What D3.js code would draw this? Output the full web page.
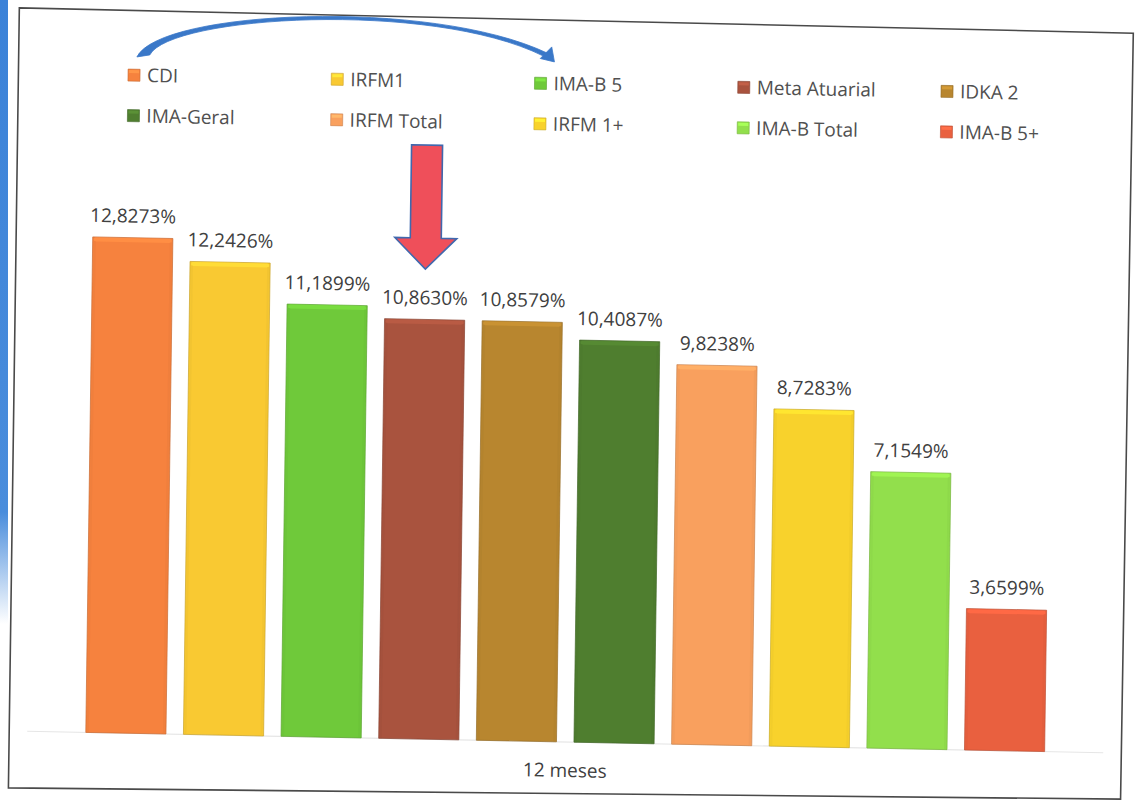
<!DOCTYPE html>
<html>
<head>
<meta charset="utf-8">
<script src="https://cdn.jsdelivr.net/npm/d3@7"></script>
<style>
  html, body { margin: 0; padding: 0; background: #ffffff; }
  svg { display: block; }
</style>
</head>
<body>
<svg id="chart" width="1139" height="800"></svg>
<script>
// Twelve-month returns of the benchmark indices
const categories = ["CDI", "IRFM1", "IMA-B 5", "Meta Atuarial", "IDKA 2",
                    "IMA-Geral", "IRFM Total", "IRFM 1+", "IMA-B Total", "IMA-B 5+"];
const values = [12.8273, 12.2426, 11.1899, 10.8630, 10.8579,
                10.4087, 9.8238, 8.7283, 7.1549, 3.6599];
const colors = ["#f6823e", "#f9c932", "#6fc93a", "#a9533e", "#b8862f",
                "#4f7e2f", "#f9a05e", "#f8d22c", "#92df4c", "#e9603f"];
const periodLabel = "12 meses";
const highlighted = "Meta Atuarial";
const yDomain = [0, 14];

const svg = d3.select("#chart");
const font = "'Open Sans', 'Liberation Sans', sans-serif";
const ptBR = d3.formatLocale({ decimal: ",", thousands: ".", grouping: [3], currency: ["R$", ""] });
const fmt = v => ptBR.format(".4f")(v) + "%";

// slide strip on the left edge
const defs = svg.append("defs");
const strip = defs.append("linearGradient").attr("id", "strip")
  .attr("x1", 0).attr("y1", 0).attr("x2", 0).attr("y2", 1);
strip.append("stop").attr("offset", 0).attr("stop-color", "#3b82d8");
strip.append("stop").attr("offset", 0.64).attr("stop-color", "#4a8ddc");
strip.append("stop").attr("offset", 0.78).attr("stop-color", "#ffffff");
svg.append("rect").attr("x", 0).attr("y", 0).attr("width", 8).attr("height", 800)
  .attr("fill", "url(#strip)");

// the printed chart sits slightly askew on the page
const g = svg.append("g").attr("transform", "matrix(1,0.02,-0.014,1,5.6,-11.4)");

// chart border
g.append("path")
  .attr("d", "M14,19 L1128,22 L1126,788 L14,799 Z")
  .attr("fill", "none").attr("stroke", "#4a4a4a").attr("stroke-width", 1.6);

// scales
const x = d3.scaleBand().domain(categories).range([32, 1108])
  .paddingInner(0.179).paddingOuter(0.6);
const y = d3.scaleLinear().domain(yDomain).range([742, 742 - 14 * 38.63]);
const color = d3.scaleOrdinal().domain(categories).range(colors);
const data = categories.map((c, i) => ({ cat: c, value: values[i] }));

// category axis line
g.append("line")
  .attr("x1", x.range()[0]).attr("x2", x.range()[1])
  .attr("y1", y(0)).attr("y2", y(0))
  .attr("stroke", "#e6e6e6").attr("stroke-width", 1.2);

// bars with a soft bevel on top
const bars = g.append("g").selectAll("g").data(data).join("g");
bars.append("rect")
  .attr("x", d => x(d.cat)).attr("width", x.bandwidth())
  .attr("y", d => y(d.value)).attr("height", d => y(0) - y(d.value))
  .attr("fill", d => color(d.cat))
  .attr("stroke", d => d3.color(color(d.cat)).darker(0.6))
  .attr("stroke-width", 0.7);
bars.append("rect")
  .attr("x", d => x(d.cat) + 1).attr("width", x.bandwidth() - 2)
  .attr("y", d => y(d.value) + 0.5).attr("height", 4).attr("rx", 2)
  .attr("fill", d => d3.color(color(d.cat)).brighter(0.25));
bars.append("rect")
  .attr("x", d => x(d.cat) + 1).attr("width", 2)
  .attr("y", d => y(d.value) + 4).attr("height", d => y(0) - y(d.value) - 4)
  .attr("fill", d => d3.color(color(d.cat)).darker(0.15)).attr("opacity", 0.5);
bars.append("rect")
  .attr("x", d => x(d.cat) + x.bandwidth() - 3).attr("width", 2)
  .attr("y", d => y(d.value) + 4).attr("height", d => y(0) - y(d.value) - 4)
  .attr("fill", d => d3.color(color(d.cat)).darker(0.15)).attr("opacity", 0.5);

// value labels
g.append("g").selectAll("text").data(data).join("text")
  .attr("x", d => x(d.cat) + x.bandwidth() / 2)
  .attr("y", d => y(d.value) - 15)
  .attr("text-anchor", "middle")
  .attr("font-family", font).attr("font-size", 19).attr("fill", "#404040")
  .text(d => fmt(d.value));

// period label under the bars
g.append("text")
  .attr("x", (x.range()[0] + x.range()[1]) / 2).attr("y", 777)
  .attr("text-anchor", "middle")
  .attr("font-family", font).attr("font-size", 19).attr("fill", "#404040")
  .text(periodLabel);

// legend: five columns, two rows
const legCols = 5, legX0 = 123.6, legStep = 203.25, legRowY = [84, 124.5];
const legX = i => legX0 + (i % legCols) * legStep;
const legY = i => legRowY[Math.floor(i / legCols)];
const leg = g.append("g").selectAll("g").data(categories).join("g")
  .attr("transform", (d, i) => `translate(${legX(i)},${legY(i)})`);
leg.append("rect").attr("x", 0).attr("y", -6).attr("width", 12).attr("height", 12)
  .attr("fill", d => color(d))
  .attr("stroke", d => d3.color(color(d)).darker(0.6)).attr("stroke-width", 0.6);
leg.append("rect").attr("x", 1).attr("y", -5).attr("width", 10).attr("height", 3)
  .attr("fill", d => d3.color(color(d)).brighter(0.4));
leg.append("text").attr("x", 19).attr("y", 0).attr("dy", "0.35em")
  .attr("font-family", font).attr("font-size", 19).attr("fill", "#505050")
  .text(d => d);

// curved blue arrow from the first legend column to the third
const ax0 = legX(0), ax2 = legX(2), ay = legRowY[0];
const arc = d3.path();
arc.moveTo(ax0 + 8.6, ay - 18.3);
arc.bezierCurveTo(ax0 + 30.9, ay - 65.8, ax2 - 105.7, ay - 83.2, ax2 + 12, ay - 30.5);
arc.lineTo(ax2 + 8.1, ay - 27.5);
arc.bezierCurveTo(ax2 - 105.7, ay - 81.2, ax0 + 41, ay - 60, ax0 + 21.5, ay - 20.6);
arc.closePath();
g.append("path").attr("d", arc.toString())
  .attr("fill", "#3a78c8").attr("stroke", "#3a78c8").attr("stroke-width", 0.8)
  .attr("stroke-linejoin", "round");
g.append("path")
  .attr("d", d3.line()([[ax2 + 5.4, ay - 24.8], [ax2 + 16.7, ay - 36.6], [ax2 + 19.6, ay - 21.7]]) + "Z")
  .attr("fill", "#3a78c8").attr("stroke", "#3a78c8").attr("stroke-width", 0.8)
  .attr("stroke-linejoin", "round");

// red arrow pointing at the highlighted bar
const cx = x(highlighted) + x.bandwidth() / 2;
const shaftTop = 148, headTop = 241, tip = 272;
g.append("path")
  .attr("d", d3.line()([
    [cx - 15.5, shaftTop], [cx + 15.5, shaftTop], [cx + 15.5, headTop],
    [cx + 31, headTop], [cx, tip], [cx - 31, headTop], [cx - 15.5, headTop]
  ]) + "Z")
  .attr("fill", "#ef4f5a").attr("stroke", "#4068ae").attr("stroke-width", 1.6)
  .attr("stroke-linejoin", "miter");
</script>
</body>
</html>
